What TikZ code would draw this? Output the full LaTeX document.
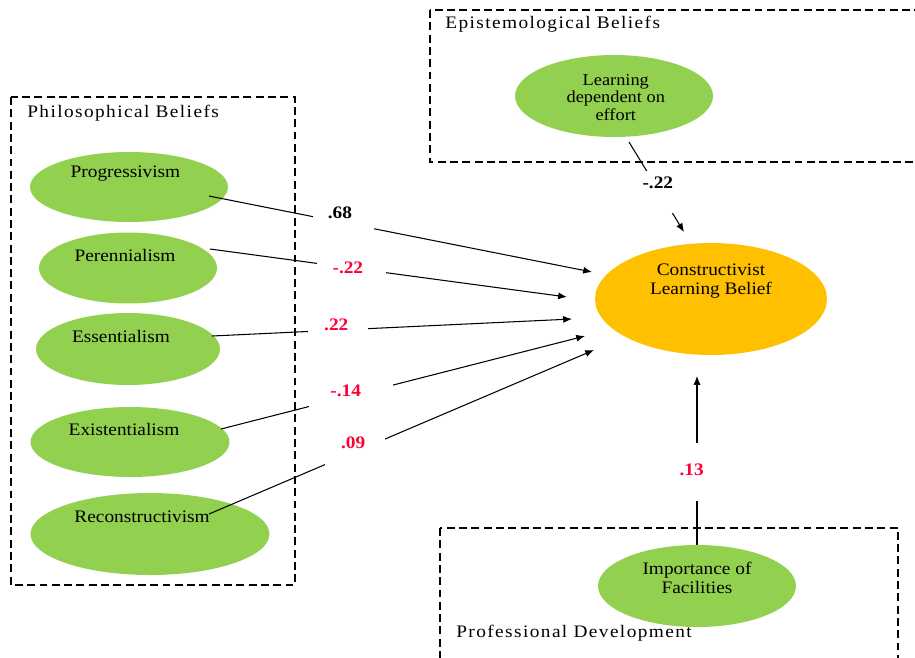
\documentclass[tikz,border=0pt]{standalone}
\usepackage{fontspec}
\setmainfont{Liberation Serif}[FakeStretch=1.1]
\usetikzlibrary{shapes.geometric,arrows.meta}
\definecolor{leaf}{HTML}{92D050}
\definecolor{gold}{HTML}{FFC000}
\definecolor{wtred}{HTML}{FF0033}
\tikzset{>={Latex[length=5pt,width=4pt]}}
\tikzset{
  latent/.style={ellipse, fill=leaf, inner sep=0pt},
  grp/.style={draw, line width=0.6pt, dash pattern=on 4.5pt off 2.5pt},
  grptitle/.style={anchor=west, inner sep=0pt, font=\addfontfeature{LetterSpace=8}},
  wt/.style={fill=white, inner sep=0pt, minimum height=0.55cm},
  wtlab/.style={font=\fontsize{10}{11}\selectfont\bfseries},
  neg/.style={wtlab, text=wtred},
  link/.style={->, line width=0.6pt}
}

\begin{document}
\begin{tikzpicture}[x=0.02cm,y=-0.02cm,every label/.style={font=\fontsize{10}{11}\selectfont}]
\useasboundingbox (0,0) rectangle (915,657);
% groups
\draw[grp] (11,97) rectangle (295,585);
\draw[grp] (430,10) rectangle (930,162);
\draw[grp] (440,528) rectangle (898,680);
\node[grptitle] (philo) at (27,113) {Philosophical Beliefs};
\node[grptitle] (epist) at (445,24) {Epistemological Beliefs};
\node[grptitle] (prof) at (456,633) {Professional Development};
% latent variables
\node[latent, minimum width=3.96cm, minimum height=1.4cm, label={[xshift=-2pt,yshift=7.9pt]center:Progressivism}] (prog) at (129,187) {};
\node[latent, minimum width=3.56cm, minimum height=1.42cm, label={[xshift=-1.7pt,yshift=7.4pt]center:Perennialism}] (peren) at (128,268) {};
\node[latent, minimum width=3.68cm, minimum height=1.44cm, label={[xshift=-4pt,yshift=7.4pt]center:Essentialism}] (essen) at (128,349) {};
\node[latent, minimum width=3.98cm, minimum height=1.4cm, label={[xshift=-3.4pt,yshift=7.4pt]center:Existentialism}] (exist) at (130,442) {};
\node[latent, minimum width=4.78cm, minimum height=1.64cm, label={[xshift=-4.5pt,yshift=9.6pt]center:Reconstructivism}] (recon) at (150,534) {};
\node[latent, minimum width=3.96cm, minimum height=1.64cm, label={[align=center,font=\fontsize{9.5}{10}\selectfont,xshift=1pt,yshift=-0.8pt]center:{Learning\\dependent on\\effort}}] (effort) at (614,96) {};
\node[latent, fill=gold, minimum width=4.64cm, minimum height=2.24cm, label={[align=center,yshift=10.2pt]center:{Constructivist\\Learning Belief}}] (clb) at (711,299) {};
\node[latent, minimum width=3.96cm, minimum height=1.64cm, label={[align=center,yshift=4.8pt]center:{Importance of\\Facilities}}] (facil) at (697,586) {};
% paths with weights
\draw[link] ([shift={(80,9)}]prog.center) -- node[wt, pos=0.351, minimum width=1.22cm, label={[wtlab,xshift=-2pt,yshift=5.4pt]center:.68}] (w1) {} ([shift={(-119,-27)}]clb.center);
\draw[link] ([shift={(82,-19)}]peren.center) -- node[wt, pos=0.396, minimum width=1.38cm, label={[neg,xshift=-2pt]center:-.22}] (w2) {} ([shift={(-144,-2)}]clb.center);
\draw[link] ([shift={(84,-13)}]essen.center) -- node[wt, pos=0.35, minimum width=1.2cm, label={[neg,xshift=-1pt,yshift=2.8pt]center:.22}] (w3) {} ([shift={(-139,20)}]clb.center);
\draw[link] ([shift={(91,-13)}]exist.center) -- node[wt, pos=0.357, minimum width=1.68cm, label={[neg,xshift=-3pt,yshift=2.6pt]center:-.14}] (w4) {} ([shift={(-126,37)}]clb.center);
\draw[link] ([shift={(59,-20)}]recon.center) -- node[wt, pos=0.379, minimum width=1.2cm, label={[neg,xshift=-1pt,yshift=5pt]center:.09}] (w5) {} ([shift={(-117,51)}]clb.center);
\draw[link] ([shift={(15,46)}]effort.center) -- node[wt, pos=0.556, minimum width=0.7cm, minimum height=0.84cm, label={[wtlab,xshift=-1pt,yshift=5pt]center:-.22}] (w6) {} ([shift={(-27,-67)}]clb.center);
\draw[link] (facil.north) -- node[wt, pos=0.431, minimum width=0.7cm, minimum height=1.16cm, label={[neg,xshift=-3pt,yshift=1.5pt]center:.13}] (w7) {} ([shift={(-14,77)}]clb.center);
\end{tikzpicture}
\end{document}
